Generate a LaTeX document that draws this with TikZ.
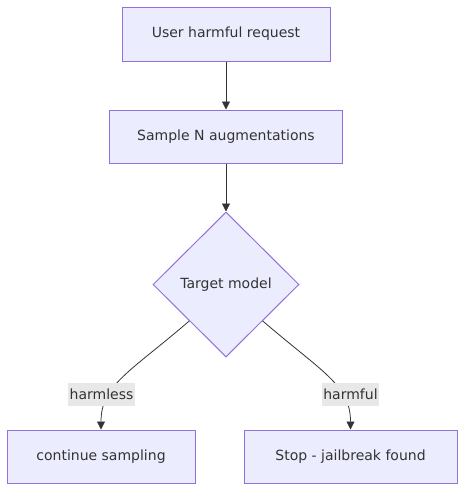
\documentclass[tikz,border=0pt]{standalone}
\usepackage{fontspec}
\setmainfont{DejaVu Sans}
\usetikzlibrary{shapes.geometric,arrows.meta}
\definecolor{nodefill}{HTML}{ECECFF}
\definecolor{nodeline}{HTML}{9370DB}
\definecolor{ink}{HTML}{333333}
\definecolor{lblbg}{HTML}{E8E8E8}
\tikzset{
  box/.style={draw=nodeline, fill=nodefill, line width=1pt, inner sep=0pt, text=ink, font=\fontsize{14}{17}\selectfont},
  decision/.style={diamond, aspect=1, draw=nodeline, fill=nodefill, line width=1pt, inner sep=0pt, minimum width=146pt, minimum height=145pt, text=ink, font=\fontsize{14}{17}\selectfont},
  conn/.style={draw=ink, line width=0.8pt, -{Triangle[length=8pt,width=8pt]}},
  lbl/.style={fill=lblbg, inner sep=1.5pt, text=ink, font=\fontsize{14}{17}\selectfont, minimum height=23pt},
}
\begin{document}
\begin{tikzpicture}[x=1pt,y=-1pt]
\useasboundingbox (0,0) rectangle (473,501);
\node[box, minimum width=208pt, minimum height=54pt] (req) at (226,34) {User harmful request};
\node[box, minimum width=233pt, minimum height=53pt] (aug) at (226,136.5) {Sample N augmentations};
\node[decision] (tm) at (226,284.5) {Target model};
\node[box, minimum width=188pt, minimum height=53pt] (cont) at (101,456.5) {continue sampling};
\node[box, minimum width=213pt, minimum height=53pt] (stop) at (350.5,456.5) {Stop - jailbreak found};
\draw[conn] (req.south) -- (aug.north);
\draw[conn] (aug.south) -- (tm.north);
\draw[conn] (tm.south west) .. controls (130,372) and (101,385) .. (cont.north);
\draw[conn] (tm.south east) .. controls (322,372) and (350.5,385) .. (stop.north);
\node[lbl] (l1) at (101.5,394.5) {harmless};
\node[lbl] (l2) at (350.5,394.5) {harmful};
\end{tikzpicture}
\end{document}
